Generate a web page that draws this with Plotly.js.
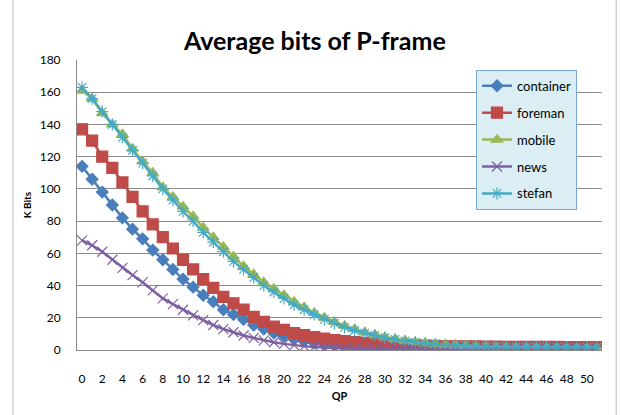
<!DOCTYPE html>
<html>
<head>
<meta charset="utf-8">
<script src="https://cdn.plot.ly/plotly-3.0.1.min.js"></script>
<style>html,body{margin:0;padding:0;background:#fff;}#chart{width:621px;height:415px;}</style>
</head>
<body>
<div id="chart"></div>
<script>
const qp = Array.from({length: 52}, (_, i) => i);
const tickValues = [0,2,4,6,8,10,12,14,16,18,20,22,24,26,28,30,32,34,36,38,40,42,44,46,48,50];

const container = [114,106,98,90,82,75,69,62,56,50,44,39,34,30,25,22,19,15.5,13,10.5,8.5,7,5.5,4.5,3.5,2.8,2.2,1.8,1.4,1.1,0.9,0.7,0.6,0.5,0.45,0.4,0.4,0.35,0.35,0.3,0.3,0.3,0.3,0.25,0.25,0.25,0.25,0.2,0.2,0.2,0.2,0.2];
const foreman = [137,130,120,113,104,95,86,78,70,63,56,50,44,38.5,33,29,25,20.5,17.5,14.5,12.5,10.5,9.3,8,7,6.2,5.5,4.9,4.4,4,3.6,3.3,3,2.8,2.6,2.5,2.4,2.3,2.2,2.2,2.1,2.1,2,2,2,1.9,1.9,1.9,1.8,1.8,1.8,1.8];
const mobile = [161,156,147,140,134,125,117,110,101,95,89,83,76,70,64,58,52,47,42,38,34,30,26.5,23,20,17.5,15,13,11,9.5,8,6.8,5.8,5,4.3,3.7,3.2,2.8,2.5,2.2,2,1.8,1.6,1.5,1.4,1.3,1.2,1.1,1,1,0.9,0.9];
const news = [68,65,61,56,51,46.5,42,37,32,28.5,25,21.5,18.5,15.5,13,11,9,7.5,6,4.8,3.8,3,2.4,1.9,1.5,1.2,1,0.8,0.7,0.6,0.5,0.45,0.4,0.4,0.35,0.35,0.3,0.3,0.3,0.3,0.3,0.3,0.3,0.3,0.3,0.3,0.3,0.3,0.3,0.3,0.3,0.3];
const stefan = [163,156,148,140,132,124,116,108,100,93,86,80,73,67,61,55,50,45,40,36,32,28,25,22,19,16.5,14,12,10.5,9,7.6,6.5,5.6,4.8,4.2,3.7,3.3,3,2.7,2.5,2.3,2.2,2.1,2,2,1.9,1.9,1.9,1.8,1.8,1.8,1.8];

const seriesNames = ['container','foreman','mobile','news','stefan'];
const seriesValues = [container, foreman, mobile, news, stefan];
const colors = ['#4a7ebb','#be4b48','#98b954','#7d60a0','#46aac5'];
const symbols = ['diamond','square','triangle-up','x-thin-open','asterisk-open'];
const sizes = [9,11,10,10,10];

const traces = seriesNames.map((name, k) => ({
  x: qp, y: seriesValues[k], name: name, type: 'scatter', mode: 'lines+markers',
  legendgroup: name,
  line: {color: colors[k], width: 2.5},
  marker: {symbol: symbols[k], size: sizes[k], color: colors[k], line: {color: colors[k], width: 1.2}}
}));

const font = 'Lato, "Open Sans", sans-serif';
const layout = {
  width: 621, height: 415,
  margin: {l: 77, r: 19, t: 60, b: 65},
  paper_bgcolor: '#fff', plot_bgcolor: '#fff',
  font: {family: font, size: 12, color: '#000'},
  title: {text: '<b>Average bits of P-frame</b>', font: {family: font, size: 25, color: '#000'},
          x: 0.507, xref: 'container', xanchor: 'center', y: 0.9, yref: 'container', yanchor: 'middle'},
  xaxis: {range: [-0.5, 51.5], tickmode: 'array', tickvals: tickValues, ticktext: tickValues.map(String),
          showgrid: false, zeroline: false, showline: true, linecolor: '#888', linewidth: 1,
          ticks: 'outside', ticklen: 18, tickcolor: 'rgba(0,0,0,0)',
          tickfont: {family: font, size: 12, color: '#000'},
          title: {text: '<b>QP</b>', font: {family: font, size: 11, color: '#000'}, standoff: 6}},
  yaxis: {range: [0, 180], dtick: 20, showgrid: true, gridcolor: '#8c8c8c', gridwidth: 1,
          zeroline: false, showline: true, linecolor: '#888', linewidth: 1,
          ticks: 'outside', ticklen: 13, tickcolor: 'rgba(0,0,0,0)',
          tickfont: {family: font, size: 12, color: '#000'},
          title: {text: '<b>K Bits</b>', font: {family: font, size: 10, color: '#000'}, standoff: 6}},
  legend: {x: 0.76, y: 0.966, xanchor: 'left', yanchor: 'top', bgcolor: '#dbeef4',
           bordercolor: '#7ba7d6', borderwidth: 1, tracegroupgap: 7,
           font: {family: font, size: 13, color: '#000'}},
  shapes: [
    {type: 'line', xref: 'paper', yref: 'paper', x0: -0.122, x1: -0.122, y0: -0.3, y1: 1.3, line: {color: '#bbb', width: 1}},
    {type: 'line', xref: 'paper', yref: 'paper', x0: 1.027, x1: 1.027, y0: -0.3, y1: 1.3, line: {color: '#bbb', width: 1}}
  ]
};

Plotly.newPlot('chart', traces, layout, {displayModeBar: false, staticPlot: true});
</script>
</body>
</html>
